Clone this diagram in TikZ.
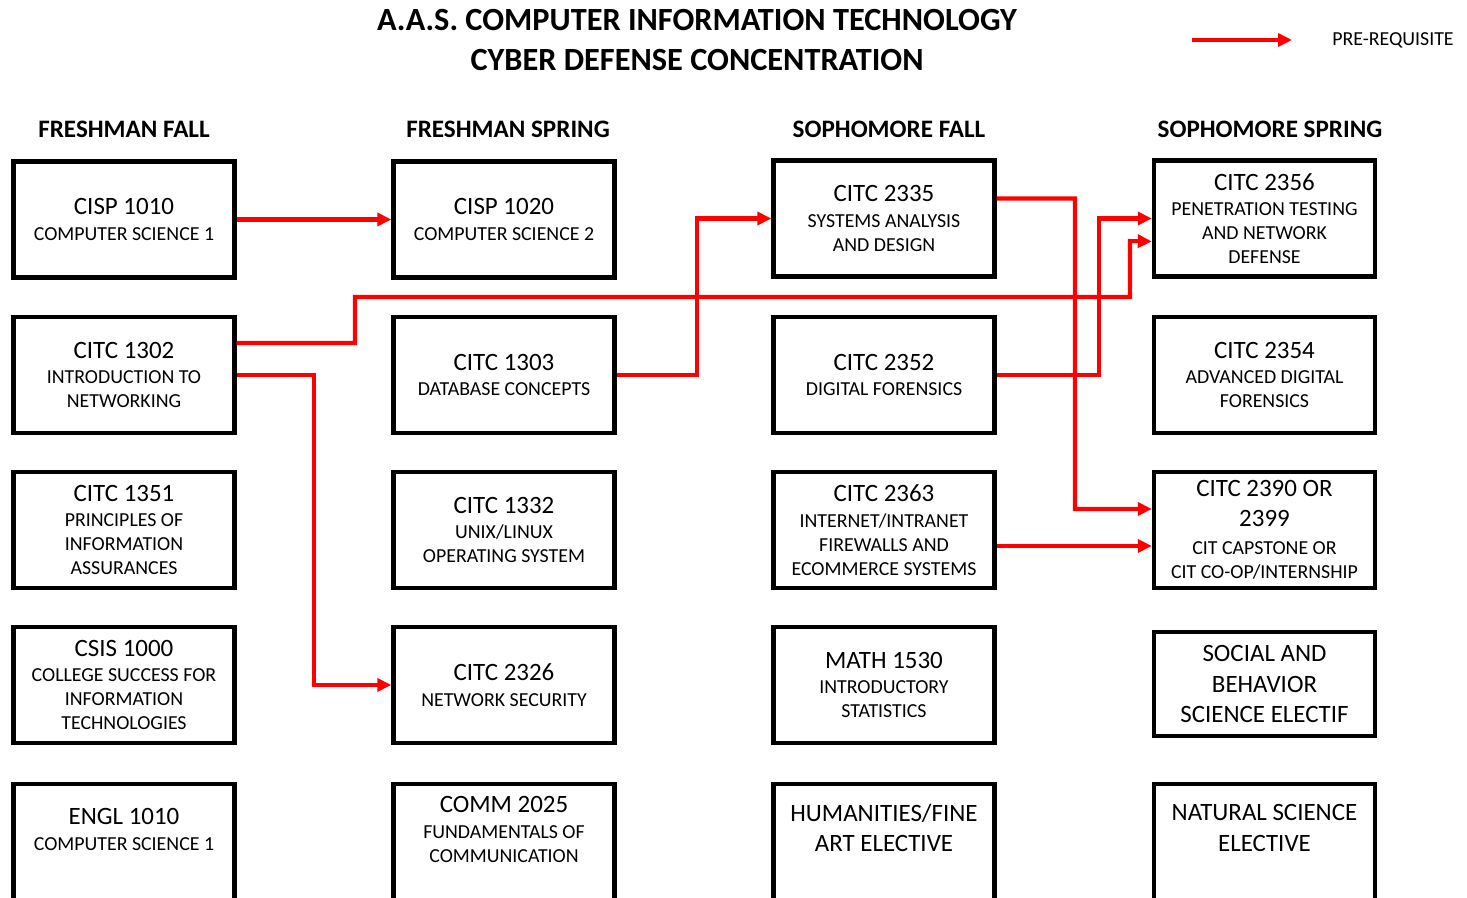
\documentclass[tikz,border=0pt]{standalone}
\usepackage{fontspec}
\setmainfont{Carlito}
\usetikzlibrary{arrows.meta}
\newcommand\codefont{\fontsize{14.2}{17.1}\selectfont}
\newcommand\subfont{\fontsize{11.3}{13.7}\selectfont}
\tikzset{
  course/.style={draw, line width=2.5pt, minimum width=4.42cm, minimum height=2.32cm,
    align=center, inner sep=0pt, font=\subfont},
  coursetext/.style={align=center, inner sep=0pt, font=\subfont},
  openbox/.style={course, anchor=north, minimum height=3cm},
  term/.style={font=\bfseries\fontsize{14.3}{17}\selectfont},
  prereq/.style={red, line width=2.3pt, -{Triangle[length=0.28cm,width=0.26cm]}}
}
\begin{document}
\begin{tikzpicture}[x=0.02cm, y=-0.02cm]
  \useasboundingbox (0,0) rectangle (1467,898);
  \clip (0,0) rectangle (1467,898);

  % title and legend
  \node[align=center, font=\bfseries\fontsize{18.4}{22.8}\selectfont] (title) at (697,40)
    {A.A.S. COMPUTER INFORMATION TECHNOLOGY\\CYBER DEFENSE CONCENTRATION};
  \coordinate (lgstart) at (1192,40);
  \coordinate (lgend) at (1292,40);
  \draw[prereq] (lgstart) -- (lgend);
  \node[anchor=west, inner sep=0pt, font=\subfont] (legend) at (1332,40) {PRE-REQUISITE};

  % terms
  \node[term] (hff) at (124,129) {FRESHMAN FALL};
  \node[term] (hfs) at (508,129) {FRESHMAN SPRING};
  \node[term] (hsf) at (889,129) {SOPHOMORE FALL};
  \node[term] (hss) at (1270,129) {SOPHOMORE SPRING};

  % freshman fall
  \node[course] (cisp1010) at (124,219.5) {{\codefont CISP 1010}\\[0.6pt]COMPUTER SCIENCE 1};
  \node[course] (citc1302) at (124,375) {{\codefont CITC 1302}\\[0.8pt]INTRODUCTION TO\\NETWORKING};
  \node[course] (citc1351) at (124,530) {{\codefont CITC 1351}\\[0.8pt]PRINCIPLES OF\\INFORMATION\\ASSURANCES};
  \node[course] (csis1000) at (124,685) {{\codefont CSIS 1000}\\[0.8pt]COLLEGE SUCCESS FOR\\INFORMATION\\TECHNOLOGIES};

  % freshman spring
  \node[course] (cisp1020) at (504,219.5) {{\codefont CISP 1020}\\[0.6pt]COMPUTER SCIENCE 2};
  \node[course] (citc1303) at (504,375) {{\codefont CITC 1303}\\[0.8pt]DATABASE CONCEPTS};
  \node[course] (citc1332) at (504,530) {{\codefont CITC 1332}\\[0.8pt]UNIX/LINUX\\OPERATING SYSTEM};
  \node[course] (citc2326) at (504,685) {{\codefont CITC 2326}\\[0.8pt]NETWORK SECURITY};

  % sophomore fall
  \node[course] (citc2335) at (884,218.5) {{\codefont CITC 2335}\\[0.8pt]SYSTEMS ANALYSIS\\AND DESIGN};
  \node[course] (citc2352) at (884,375) {{\codefont CITC 2352}\\[0.8pt]DIGITAL FORENSICS};
  \node[course] (citc2363) at (884,530) {{\codefont CITC 2363}\\[0.8pt]INTERNET/INTRANET\\FIREWALLS AND\\ECOMMERCE SYSTEMS};
  \node[course] (math1530) at (884,685) {{\codefont MATH 1530}\\[0.8pt]INTRODUCTORY\\STATISTICS};

  % sophomore spring
  \node[course] (citc2356) at (1264.5,218.5) {{\codefont CITC 2356}\\[0.8pt]PENETRATION TESTING\\AND NETWORK\\DEFENSE};
  \node[course] (citc2354) at (1264.5,375) {{\codefont CITC 2354}\\[0.8pt]ADVANCED DIGITAL\\FORENSICS};
  \node[course] (citc2390) at (1264.5,530) {{\codefont CITC 2390 OR}\\[3.4pt]{\codefont 2399}\\[2pt]CIT CAPSTONE OR\\CIT CO-OP/INTERNSHIP};
  \node[course, minimum height=2.08cm] (socsci) at (1264.5,684)
    {{\codefont SOCIAL AND}\\[3.7pt]{\codefont BEHAVIOR}\\[3.7pt]{\codefont SCIENCE ELECTIF}};

  % last row, cut at the bottom
  \node[openbox] (englbox) at (124,782) {};
  \node[openbox] (commbox) at (504,782) {};
  \node[openbox] (humbox) at (884,782) {};
  \node[openbox] (natbox) at (1264.5,782) {};
  \node[coursetext] (engl1010) at (124,829.5) {{\codefont ENGL 1010}\\[0.8pt]COMPUTER SCIENCE 1};
  \node[coursetext] (comm2025) at (504,829.5) {{\codefont COMM 2025}\\[0.8pt]FUNDAMENTALS OF\\COMMUNICATION};
  \node[coursetext] (humfine) at (884,828) {{\codefont HUMANITIES/FINE}\\[3.4pt]{\codefont ART ELECTIVE}};
  \node[coursetext] (natsci) at (1264.5,828) {{\codefont NATURAL SCIENCE}\\[3.4pt]{\codefont ELECTIVE}};

  % pre-requisites
  \draw[prereq] (cisp1010.east) -- (cisp1020.west);
  \draw[prereq] ([yshift=0.64cm]citc1302.east) -| (355,297) -| (1130,241) -- ([yshift=-0.46cm]citc2356.west);
  \draw[prereq] (citc1302.east) -| (314,685) -- (citc2326.west);
  \draw[prereq] (citc1303.east) -| (697,218.5) -- (citc2335.west);
  \draw[prereq] ([yshift=0.4cm]citc2335.east) -| (1075,509) -- ([yshift=0.42cm]citc2390.west);
  \draw[prereq] (citc2352.east) -| (1099,218.5) -- (citc2356.west);
  \draw[prereq] ([yshift=-0.32cm]citc2363.east) -- ([yshift=-0.32cm]citc2390.west);
\end{tikzpicture}
\end{document}
